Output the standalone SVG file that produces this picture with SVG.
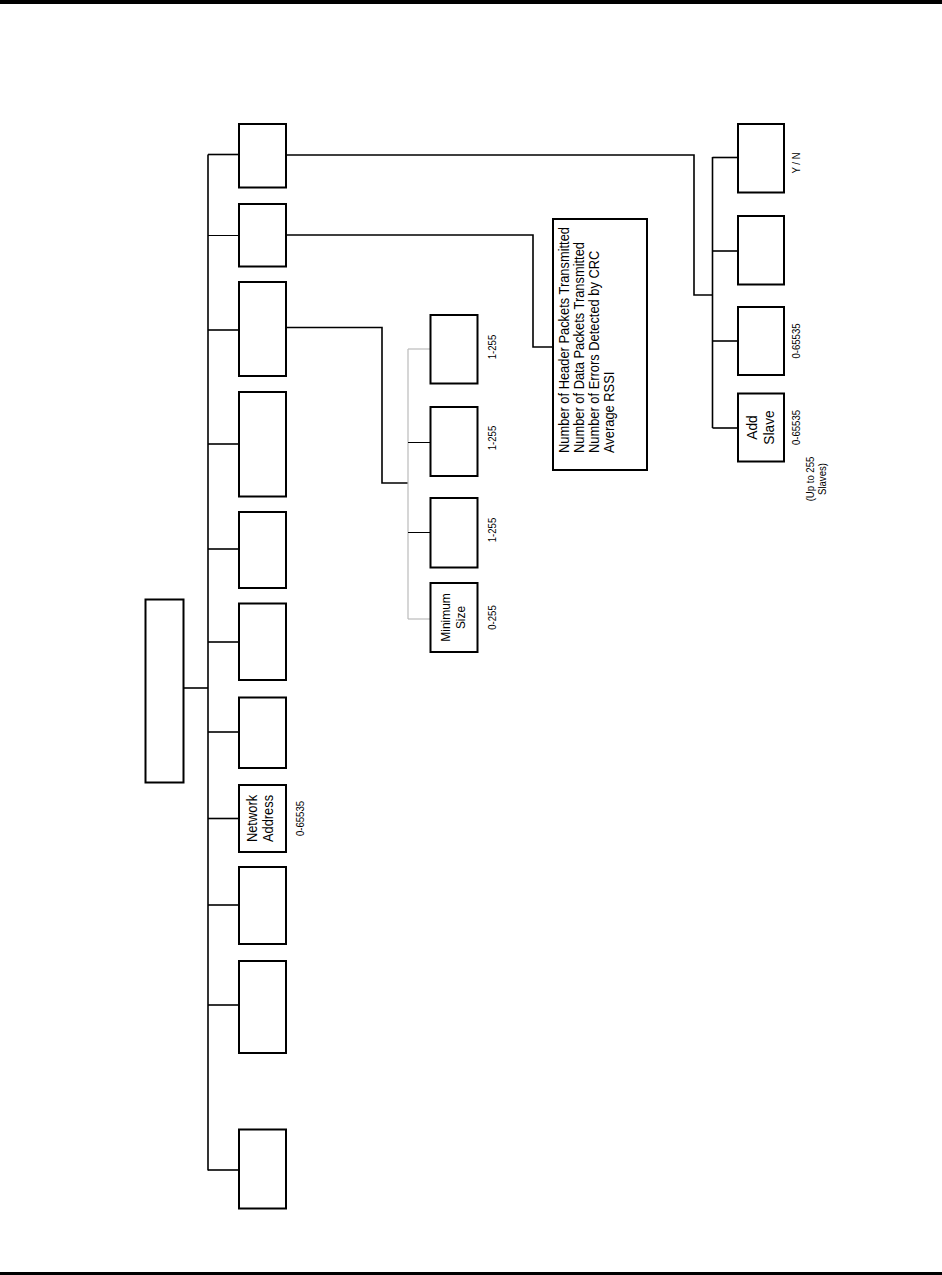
<svg xmlns="http://www.w3.org/2000/svg" width="942" height="1275" viewBox="0 0 942 1275">
<style>
.box{fill:#fff;stroke:#000;stroke-width:2}
.ln{fill:none;stroke:#000;stroke-width:1.6}
.thin{fill:none;stroke:#000;stroke-width:1}
.grey{fill:none;stroke:#bbb;stroke-width:1.2}
text{font-family:"Liberation Sans",Arial,sans-serif;fill:#000}
.lbl{font-size:11px}
.nm{font-size:14px}
</style>
<rect x="0" y="0" width="942" height="4" fill="#000"/>
<rect x="0" y="1272" width="942" height="3" fill="#000"/>
<g id="connectors">
<path class="ln" d="M183,688 H208"/>
<path class="ln" d="M208,154.5 V1170.5"/>
<path class="ln" d="M208,154.5 H239"/>
<path class="thin" d="M208,235.5 H239"/>
<path class="ln" d="M208,330 H239"/>
<path class="ln" d="M208,444 H239"/>
<path class="ln" d="M208,549 H239"/>
<path class="ln" d="M208,642 H239"/>
<path class="ln" d="M208,732 H239"/>
<path class="ln" d="M208,818.5 H239"/>
<path class="ln" d="M208,905 H239"/>
<path class="ln" d="M208,1005 H239"/>
<path class="ln" d="M208,1170 H239"/>
<path class="ln" d="M286,155 H694 V295 H712.5"/>
<path class="ln" d="M712.5,157 V428"/>
<path class="ln" d="M712.5,157.5 H738"/>
<path class="ln" d="M712.5,251 H738"/>
<path class="ln" d="M712.5,341 H738"/>
<path class="ln" d="M712.5,428 H738"/>
<path class="ln" d="M286,235 H533 V347 H553"/>
<path class="ln" d="M286,327.5 H382 V483 H408"/>
<path class="grey" d="M408,349 V619"/>
<path class="grey" d="M408,349 H430"/>
<path class="thin" d="M408,442.5 H430"/>
<path class="thin" d="M408,532.5 H430"/>
<path class="grey" d="M408,619 H430"/>
</g>
<g id="root"><rect class="box" x="145.5" y="599.5" width="38" height="183"/></g>
<g id="n1"><rect class="box" x="239" y="124" width="47" height="63.5"/></g>
<g id="n2"><rect class="box" x="239" y="204" width="47" height="62.5"/></g>
<g id="n3"><rect class="box" x="239" y="282" width="47" height="94"/></g>
<g id="n4"><rect class="box" x="239" y="392" width="47" height="104.5"/></g>
<g id="n5"><rect class="box" x="239" y="512" width="47" height="76"/></g>
<g id="n6"><rect class="box" x="239" y="603.5" width="47" height="76.5"/></g>
<g id="n7"><rect class="box" x="239" y="697.5" width="47" height="70.5"/></g>
<g id="n8"><rect class="box" x="239" y="785" width="47" height="67"/>
<text class="nm" transform="translate(256.5,818.5) rotate(-90) scale(0.92,1)" text-anchor="middle">Network</text>
<text class="nm" transform="translate(272.5,818.5) rotate(-90) scale(0.92,1)" text-anchor="middle">Address</text>
<text class="lbl" transform="translate(304,818.5) rotate(-90) scale(0.87,1)" text-anchor="middle">0-65535</text></g>
<g id="n9"><rect class="box" x="239" y="867" width="47" height="77"/></g>
<g id="n10"><rect class="box" x="239" y="961" width="47" height="92"/></g>
<g id="n11"><rect class="box" x="239" y="1129.5" width="47" height="79"/></g>
<g id="s1"><rect class="box" x="430.5" y="315" width="47" height="68.5"/>
<text class="lbl" transform="translate(496,347) rotate(-90) scale(0.87,1)" text-anchor="middle">1-255</text></g>
<g id="s2"><rect class="box" x="430.5" y="407" width="47" height="69"/>
<text class="lbl" transform="translate(496,438) rotate(-90) scale(0.87,1)" text-anchor="middle">1-255</text></g>
<g id="s3"><rect class="box" x="430.5" y="498" width="47" height="69.5"/>
<text class="lbl" transform="translate(496,530) rotate(-90) scale(0.87,1)" text-anchor="middle">1-255</text></g>
<g id="s4"><rect class="box" x="430.5" y="583" width="47" height="69"/>
<text class="nm" transform="translate(450,617.5) rotate(-90) scale(0.92,1)" text-anchor="middle" style="font-size:13px">Minimum</text>
<text class="nm" transform="translate(465,617.5) rotate(-90) scale(0.92,1)" text-anchor="middle" style="font-size:13px">Size</text>
<text class="lbl" transform="translate(496,617.5) rotate(-90) scale(0.87,1)" text-anchor="middle">0-255</text></g>
<g id="stats"><rect class="box" x="553" y="219" width="94" height="251"/>
<text class="nm" transform="translate(568.5,453) rotate(-90) scale(0.92,1)">Number of Header Packets Transmitted</text>
<text class="nm" transform="translate(583.5,453) rotate(-90) scale(0.92,1)">Number of Data Packets Transmitted</text>
<text class="nm" transform="translate(598.5,453) rotate(-90) scale(0.92,1)">Number of Errors Detected by CRC</text>
<text class="nm" transform="translate(613.5,453) rotate(-90) scale(0.92,1)">Average RSSI</text></g>
<g id="r1"><rect class="box" x="738" y="124" width="46" height="68.5"/>
<text class="lbl" transform="translate(800,163) rotate(-90) scale(0.87,1)" text-anchor="middle">Y / N</text></g>
<g id="r2"><rect class="box" x="738" y="216" width="46" height="68.5"/></g>
<g id="r3"><rect class="box" x="738" y="307" width="46" height="68"/>
<text class="lbl" transform="translate(800,341) rotate(-90) scale(0.87,1)" text-anchor="middle">0-65535</text></g>
<g id="r4"><rect class="box" x="738" y="393.5" width="46" height="68"/>
<text class="nm" transform="translate(756.5,427.5) rotate(-90) scale(0.92,1)" text-anchor="middle" style="font-size:15px">Add</text>
<text class="nm" transform="translate(773.5,427.5) rotate(-90) scale(0.92,1)" text-anchor="middle" style="font-size:15px">Slave</text>
<text class="lbl" transform="translate(800,427.5) rotate(-90) scale(0.87,1)" text-anchor="middle">0-65535</text>
<text class="lbl" transform="translate(814,479) rotate(-90) scale(0.87,1)" text-anchor="middle">(Up to 255</text>
<text class="lbl" transform="translate(826,479) rotate(-90) scale(0.87,1)" text-anchor="middle">Slaves)</text></g>
</svg>
